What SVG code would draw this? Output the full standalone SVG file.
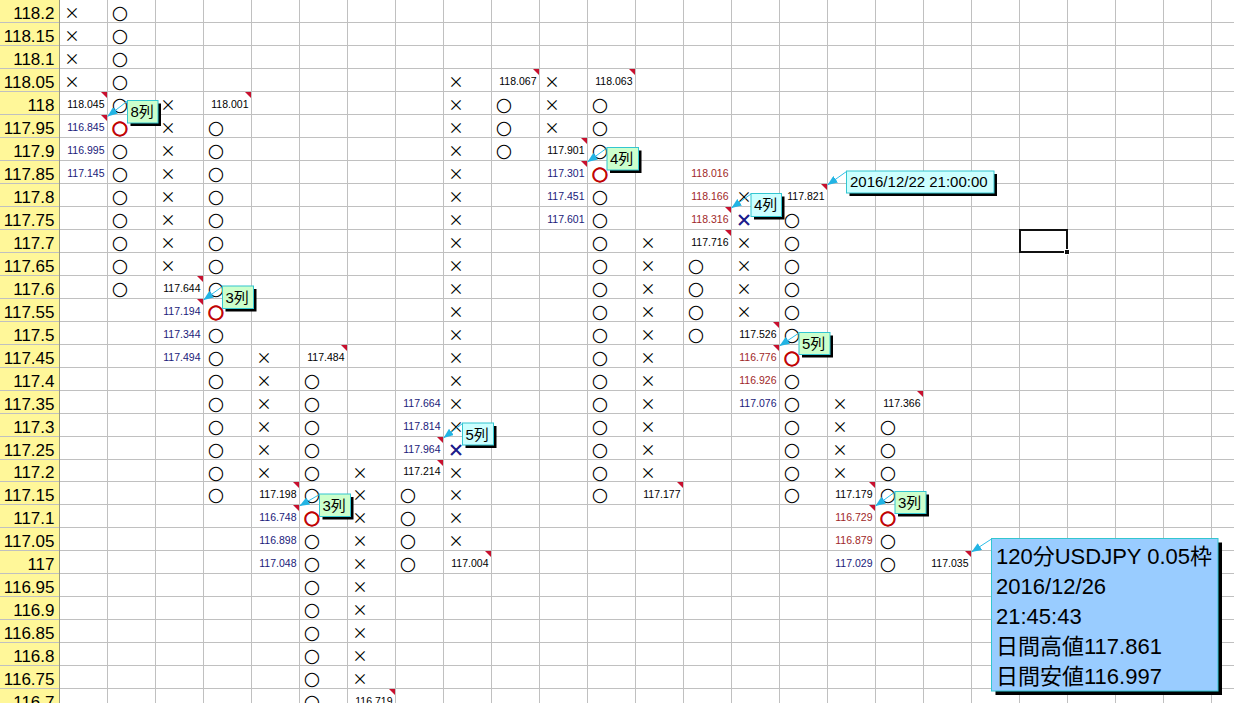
<svg xmlns="http://www.w3.org/2000/svg" xmlns:xlink="http://www.w3.org/1999/xlink" width="1234" height="703" viewBox="0 0 1234 703">
<defs>
<style>
.grid{stroke:#c0c0c0;stroke-width:1;fill:none}
.lab{font-family:"Liberation Sans",Arial,sans-serif;font-size:17px;text-anchor:end;fill:#000}
.n{font-family:"Liberation Sans",Arial,sans-serif;font-size:10.5px;text-anchor:end;fill:#000}
.nb{fill:#1a1a7a}
.nr{fill:#a02828}
.s{text-anchor:middle;dominant-baseline:central;fill:#000}
.o{font-family:"DejaVu Sans",sans-serif;font-size:19px}
.x{font-family:"Noto Sans CJK JP",sans-serif;font-size:15.5px}
.ro{fill:#c00000;stroke:#c00000;stroke-width:0.9}
.bx{fill:#1a1a8c;stroke:#1a1a8c;stroke-width:1}
.box{stroke:#33c6d0;stroke-width:1}
.g{fill:#ccffcc}
.c{fill:#ccffff}
.bl{fill:#99ccff}
.sh{fill:#000}
.bt{font-family:"Liberation Sans","Noto Sans CJK JP",sans-serif;font-size:15px;fill:#000}
.big{font-family:"Liberation Sans","Noto Sans CJK JP",sans-serif;font-size:22px;fill:#000}
.lead{stroke:#30bfe8;stroke-width:1;fill:none;marker-end:url(#ah)}
</style>
<polygon id="t" points="0,0 6,0 6,6" fill="#c8102e"/>
<marker id="ah" viewBox="0 0 10 8" refX="10" refY="4" markerWidth="10" markerHeight="8" markerUnits="userSpaceOnUse" orient="auto">
<path d="M0,0 L10,4 L0,8 z" fill="#22b4e4"/>
</marker>
</defs>
<rect width="1234" height="703" fill="#fff"/>
<g id="sheet">
<rect x="0" y="0" width="59.5" height="703" fill="#fff799"/>
<path class="grid" d="M0 22.5H1234M0 45.5H1234M0 68.5H1234M0 91.5H1234M0 114.5H1234M0 137.5H1234M0 160.5H1234M0 183.5H1234M0 206.5H1234M0 229.5H1234M0 252.5H1234M0 275.5H1234M0 298.5H1234M0 321.5H1234M0 344.5H1234M0 367.5H1234M0 390.5H1234M0 413.5H1234M0 436.5H1234M0 459.5H1234M0 481.5H1234M0 504.5H1234M0 527.5H1234M0 550.5H1234M0 573.5H1234M0 596.5H1234M0 619.5H1234M0 642.5H1234M0 665.5H1234M0 688.5H1234"/>
<path class="grid" d="M107.5 0V703M155.5 0V703M203.5 0V703M251.5 0V703M299.5 0V703M347.5 0V703M395.5 0V703M443.5 0V703M491.5 0V703M539.5 0V703M587.5 0V703M635.5 0V703M683.5 0V703M731.5 0V703M779.5 0V703M827.5 0V703M875.5 0V703M923.5 0V703M971.5 0V703M1019.5 0V703M1067.5 0V703M1115.5 0V703M1163.5 0V703M1211.5 0V703"/>
<path d="M59.5 0V703" stroke="#9a9a80" stroke-width="1"/>
</g>
<g id="price-labels">
<text class="lab" x="54.5" y="18.5">118.2</text>
<text class="lab" x="54.5" y="41.5">118.15</text>
<text class="lab" x="54.5" y="64.5">118.1</text>
<text class="lab" x="54.5" y="87.5">118.05</text>
<text class="lab" x="54.5" y="110.5">118</text>
<text class="lab" x="54.5" y="133.5">117.95</text>
<text class="lab" x="54.5" y="156.5">117.9</text>
<text class="lab" x="54.5" y="179.5">117.85</text>
<text class="lab" x="54.5" y="202.5">117.8</text>
<text class="lab" x="54.5" y="225.5">117.75</text>
<text class="lab" x="54.5" y="248.5">117.7</text>
<text class="lab" x="54.5" y="271.5">117.65</text>
<text class="lab" x="54.5" y="294.5">117.6</text>
<text class="lab" x="54.5" y="317.5">117.55</text>
<text class="lab" x="54.5" y="340.5">117.5</text>
<text class="lab" x="54.5" y="363.5">117.45</text>
<text class="lab" x="54.5" y="386.5">117.4</text>
<text class="lab" x="54.5" y="409.5">117.35</text>
<text class="lab" x="54.5" y="432.5">117.3</text>
<text class="lab" x="54.5" y="455.5">117.25</text>
<text class="lab" x="54.5" y="478">117.2</text>
<text class="lab" x="54.5" y="500.5">117.15</text>
<text class="lab" x="54.5" y="523.5">117.1</text>
<text class="lab" x="54.5" y="546.5">117.05</text>
<text class="lab" x="54.5" y="569.5">117</text>
<text class="lab" x="54.5" y="592.5">116.95</text>
<text class="lab" x="54.5" y="615.5">116.9</text>
<text class="lab" x="54.5" y="638.5">116.85</text>
<text class="lab" x="54.5" y="661.5">116.8</text>
<text class="lab" x="54.5" y="684.5">116.75</text>
<text class="lab" x="54.5" y="707.5">116.7</text>
</g>
<g id="col0">
<text class="s x" x="72" y="12">×</text>
<text class="s x" x="72" y="35">×</text>
<text class="s x" x="72" y="58">×</text>
<text class="s x" x="72" y="81">×</text>
<text class="n" x="104.5" y="107.5">118.045</text>
<text class="n nb" x="104.5" y="130.5">116.845</text>
<text class="n nb" x="104.5" y="153.5">116.995</text>
<text class="n nb" x="104.5" y="176.5">117.145</text>
<use xlink:href="#t" x="101" y="92"/>
<use xlink:href="#t" x="101" y="115"/>
</g>
<g id="col1">
<text class="s o" x="120" y="12">○</text>
<text class="s o" x="120" y="35">○</text>
<text class="s o" x="120" y="58">○</text>
<text class="s o" x="120" y="81">○</text>
<text class="s o" x="120" y="104">○</text>
<text class="s o ro" x="120" y="127">○</text>
<text class="s o" x="120" y="150">○</text>
<text class="s o" x="120" y="173">○</text>
<text class="s o" x="120" y="196">○</text>
<text class="s o" x="120" y="219">○</text>
<text class="s o" x="120" y="242">○</text>
<text class="s o" x="120" y="265">○</text>
<text class="s o" x="120" y="288">○</text>
</g>
<g id="col2">
<text class="s x" x="168" y="104">×</text>
<text class="s x" x="168" y="127">×</text>
<text class="s x" x="168" y="150">×</text>
<text class="s x" x="168" y="173">×</text>
<text class="s x" x="168" y="196">×</text>
<text class="s x" x="168" y="219">×</text>
<text class="s x" x="168" y="242">×</text>
<text class="s x" x="168" y="265">×</text>
<text class="n" x="200.5" y="291.5">117.644</text>
<text class="n nb" x="200.5" y="314.5">117.194</text>
<text class="n nb" x="200.5" y="337.5">117.344</text>
<text class="n nb" x="200.5" y="360.5">117.494</text>
<use xlink:href="#t" x="197" y="276"/>
<use xlink:href="#t" x="197" y="299"/>
</g>
<g id="col3">
<text class="n" x="248.5" y="107.5">118.001</text>
<use xlink:href="#t" x="245" y="92"/>
<text class="s o" x="216" y="127">○</text>
<text class="s o" x="216" y="150">○</text>
<text class="s o" x="216" y="173">○</text>
<text class="s o" x="216" y="196">○</text>
<text class="s o" x="216" y="219">○</text>
<text class="s o" x="216" y="242">○</text>
<text class="s o" x="216" y="265">○</text>
<text class="s o" x="216" y="288">○</text>
<text class="s o ro" x="216" y="311">○</text>
<text class="s o" x="216" y="334">○</text>
<text class="s o" x="216" y="357">○</text>
<text class="s o" x="216" y="380">○</text>
<text class="s o" x="216" y="403">○</text>
<text class="s o" x="216" y="426">○</text>
<text class="s o" x="216" y="449">○</text>
<text class="s o" x="216" y="471.5">○</text>
<text class="s o" x="216" y="494">○</text>
</g>
<g id="col4">
<text class="s x" x="264" y="357">×</text>
<text class="s x" x="264" y="380">×</text>
<text class="s x" x="264" y="403">×</text>
<text class="s x" x="264" y="426">×</text>
<text class="s x" x="264" y="449">×</text>
<text class="s x" x="264" y="471.5">×</text>
<text class="n" x="296.5" y="497.5">117.198</text>
<text class="n nb" x="296.5" y="520.5">116.748</text>
<text class="n nb" x="296.5" y="543.5">116.898</text>
<text class="n nb" x="296.5" y="566.5">117.048</text>
<use xlink:href="#t" x="293" y="482"/>
<use xlink:href="#t" x="293" y="505"/>
</g>
<g id="col5">
<text class="n" x="344.5" y="360.5">117.484</text>
<use xlink:href="#t" x="341" y="345"/>
<text class="s o" x="312" y="380">○</text>
<text class="s o" x="312" y="403">○</text>
<text class="s o" x="312" y="426">○</text>
<text class="s o" x="312" y="449">○</text>
<text class="s o" x="312" y="471.5">○</text>
<text class="s o" x="312" y="494">○</text>
<text class="s o ro" x="312" y="517">○</text>
<text class="s o" x="312" y="540">○</text>
<text class="s o" x="312" y="563">○</text>
<text class="s o" x="312" y="586">○</text>
<text class="s o" x="312" y="609">○</text>
<text class="s o" x="312" y="632">○</text>
<text class="s o" x="312" y="655">○</text>
<text class="s o" x="312" y="678">○</text>
<text class="s o" x="312" y="701">○</text>
</g>
<g id="col6">
<text class="s x" x="360" y="471.5">×</text>
<text class="s x" x="360" y="494">×</text>
<text class="s x" x="360" y="517">×</text>
<text class="s x" x="360" y="540">×</text>
<text class="s x" x="360" y="563">×</text>
<text class="s x" x="360" y="586">×</text>
<text class="s x" x="360" y="609">×</text>
<text class="s x" x="360" y="632">×</text>
<text class="s x" x="360" y="655">×</text>
<text class="s x" x="360" y="678">×</text>
<text class="n" x="392.5" y="704.5">116.719</text>
<use xlink:href="#t" x="389" y="689"/>
</g>
<g id="col7">
<text class="n nb" x="440.5" y="406.5">117.664</text>
<text class="n nb" x="440.5" y="429.5">117.814</text>
<text class="n nb" x="440.5" y="452.5">117.964</text>
<text class="n" x="440.5" y="475">117.214</text>
<use xlink:href="#t" x="437" y="437"/>
<use xlink:href="#t" x="437" y="460"/>
<text class="s o" x="408" y="494">○</text>
<text class="s o" x="408" y="517">○</text>
<text class="s o" x="408" y="540">○</text>
<text class="s o" x="408" y="563">○</text>
</g>
<g id="col8">
<text class="s x" x="456" y="81">×</text>
<text class="s x" x="456" y="104">×</text>
<text class="s x" x="456" y="127">×</text>
<text class="s x" x="456" y="150">×</text>
<text class="s x" x="456" y="173">×</text>
<text class="s x" x="456" y="196">×</text>
<text class="s x" x="456" y="219">×</text>
<text class="s x" x="456" y="242">×</text>
<text class="s x" x="456" y="265">×</text>
<text class="s x" x="456" y="288">×</text>
<text class="s x" x="456" y="311">×</text>
<text class="s x" x="456" y="334">×</text>
<text class="s x" x="456" y="357">×</text>
<text class="s x" x="456" y="380">×</text>
<text class="s x" x="456" y="403">×</text>
<text class="s x" x="456" y="426">×</text>
<text class="s x bx" x="456" y="449">×</text>
<text class="s x" x="456" y="471.5">×</text>
<text class="s x" x="456" y="494">×</text>
<text class="s x" x="456" y="517">×</text>
<text class="s x" x="456" y="540">×</text>
<text class="n" x="488.5" y="566.5">117.004</text>
<use xlink:href="#t" x="485" y="551"/>
</g>
<g id="col9">
<text class="n" x="536.5" y="84.5">118.067</text>
<use xlink:href="#t" x="533" y="69"/>
<text class="s o" x="504" y="104">○</text>
<text class="s o" x="504" y="127">○</text>
<text class="s o" x="504" y="150">○</text>
</g>
<g id="col10">
<text class="s x" x="552" y="81">×</text>
<text class="s x" x="552" y="104">×</text>
<text class="s x" x="552" y="127">×</text>
<text class="n" x="584.5" y="153.5">117.901</text>
<text class="n nb" x="584.5" y="176.5">117.301</text>
<text class="n nb" x="584.5" y="199.5">117.451</text>
<text class="n nb" x="584.5" y="222.5">117.601</text>
<use xlink:href="#t" x="581" y="138"/>
<use xlink:href="#t" x="581" y="161"/>
</g>
<g id="col11">
<text class="n" x="632.5" y="84.5">118.063</text>
<use xlink:href="#t" x="629" y="69"/>
<text class="s o" x="600" y="104">○</text>
<text class="s o" x="600" y="127">○</text>
<text class="s o" x="600" y="150">○</text>
<text class="s o ro" x="600" y="173">○</text>
<text class="s o" x="600" y="196">○</text>
<text class="s o" x="600" y="219">○</text>
<text class="s o" x="600" y="242">○</text>
<text class="s o" x="600" y="265">○</text>
<text class="s o" x="600" y="288">○</text>
<text class="s o" x="600" y="311">○</text>
<text class="s o" x="600" y="334">○</text>
<text class="s o" x="600" y="357">○</text>
<text class="s o" x="600" y="380">○</text>
<text class="s o" x="600" y="403">○</text>
<text class="s o" x="600" y="426">○</text>
<text class="s o" x="600" y="449">○</text>
<text class="s o" x="600" y="471.5">○</text>
<text class="s o" x="600" y="494">○</text>
</g>
<g id="col12">
<text class="s x" x="648" y="242">×</text>
<text class="s x" x="648" y="265">×</text>
<text class="s x" x="648" y="288">×</text>
<text class="s x" x="648" y="311">×</text>
<text class="s x" x="648" y="334">×</text>
<text class="s x" x="648" y="357">×</text>
<text class="s x" x="648" y="380">×</text>
<text class="s x" x="648" y="403">×</text>
<text class="s x" x="648" y="426">×</text>
<text class="s x" x="648" y="449">×</text>
<text class="s x" x="648" y="471.5">×</text>
<text class="n" x="680.5" y="497.5">117.177</text>
<use xlink:href="#t" x="677" y="482"/>
</g>
<g id="col13">
<text class="n nr" x="728.5" y="176.5">118.016</text>
<text class="n nr" x="728.5" y="199.5">118.166</text>
<text class="n nr" x="728.5" y="222.5">118.316</text>
<text class="n" x="728.5" y="245.5">117.716</text>
<use xlink:href="#t" x="725" y="207"/>
<use xlink:href="#t" x="725" y="230"/>
<text class="s o" x="696" y="265">○</text>
<text class="s o" x="696" y="288">○</text>
<text class="s o" x="696" y="311">○</text>
<text class="s o" x="696" y="334">○</text>
</g>
<g id="col14">
<text class="s x" x="744" y="196">×</text>
<text class="s x bx" x="744" y="219">×</text>
<text class="s x" x="744" y="242">×</text>
<text class="s x" x="744" y="265">×</text>
<text class="s x" x="744" y="288">×</text>
<text class="s x" x="744" y="311">×</text>
<text class="n" x="776.5" y="337.5">117.526</text>
<text class="n nr" x="776.5" y="360.5">116.776</text>
<text class="n nr" x="776.5" y="383.5">116.926</text>
<text class="n nb" x="776.5" y="406.5">117.076</text>
<use xlink:href="#t" x="773" y="322"/>
<use xlink:href="#t" x="773" y="345"/>
</g>
<g id="col15">
<text class="n" x="824.5" y="199.5">117.821</text>
<use xlink:href="#t" x="821" y="184"/>
<text class="s o" x="792" y="219">○</text>
<text class="s o" x="792" y="242">○</text>
<text class="s o" x="792" y="265">○</text>
<text class="s o" x="792" y="288">○</text>
<text class="s o" x="792" y="311">○</text>
<text class="s o" x="792" y="334">○</text>
<text class="s o ro" x="792" y="357">○</text>
<text class="s o" x="792" y="380">○</text>
<text class="s o" x="792" y="403">○</text>
<text class="s o" x="792" y="426">○</text>
<text class="s o" x="792" y="449">○</text>
<text class="s o" x="792" y="471.5">○</text>
<text class="s o" x="792" y="494">○</text>
</g>
<g id="col16">
<text class="s x" x="840" y="403">×</text>
<text class="s x" x="840" y="426">×</text>
<text class="s x" x="840" y="449">×</text>
<text class="s x" x="840" y="471.5">×</text>
<text class="n" x="872.5" y="497.5">117.179</text>
<text class="n nr" x="872.5" y="520.5">116.729</text>
<text class="n nr" x="872.5" y="543.5">116.879</text>
<text class="n nb" x="872.5" y="566.5">117.029</text>
<use xlink:href="#t" x="869" y="482"/>
<use xlink:href="#t" x="869" y="505"/>
</g>
<g id="col17">
<text class="n" x="920.5" y="406.5">117.366</text>
<use xlink:href="#t" x="917" y="391"/>
<text class="s o" x="888" y="426">○</text>
<text class="s o" x="888" y="449">○</text>
<text class="s o" x="888" y="471.5">○</text>
<text class="s o" x="888" y="494">○</text>
<text class="s o ro" x="888" y="517">○</text>
<text class="s o" x="888" y="540">○</text>
<text class="s o" x="888" y="563">○</text>
</g>
<g id="col18">
<text class="n" x="968.5" y="566.5">117.035</text>
<use xlink:href="#t" x="965" y="551"/>
</g>
<g id="selected-cell">
<rect x="1020" y="230" width="47" height="22" fill="none" stroke="#111" stroke-width="2"/>
<rect x="1064.5" y="249.5" width="5" height="5" fill="#111" stroke="#fff" stroke-width="1"/>
</g>
<g id="connectors">
<path class="lead" d="M127.5 101L107.5 116.5"/>
<path class="lead" d="M222.5 286.5L203.5 300"/>
<path class="lead" d="M319.5 494.5L299.5 506"/>
<path class="lead" d="M462.5 423.5L443.5 438"/>
<path class="lead" d="M607 148L587.5 162"/>
<path class="lead" d="M751 194L731.5 208"/>
<path class="lead" d="M846.5 171.5L827.5 185"/>
<path class="lead" d="M799 333L779.5 346"/>
<path class="lead" d="M895 492L875.5 506"/>
<path class="lead" d="M991.5 539L971.5 552"/>
</g>
<g id="note-8">
<rect class="sh" x="130.5" y="103.5" width="30.5" height="22.5"/>
<rect class="box g" x="127.5" y="100.5" width="30.5" height="22.5"/>
<text class="bt" x="130.5" y="117">8列</text>
</g>
<g id="note-3a">
<rect class="sh" x="225.5" y="289" width="31" height="22.5"/>
<rect class="box g" x="222.5" y="286" width="31" height="22.5"/>
<text class="bt" x="225.5" y="302.5">3列</text>
</g>
<g id="note-3b">
<rect class="sh" x="322.5" y="497" width="31" height="22.5"/>
<rect class="box g" x="319.5" y="494" width="31" height="22.5"/>
<text class="bt" x="322.5" y="510.5">3列</text>
</g>
<g id="note-5a">
<rect class="sh" x="465.5" y="426" width="31" height="22"/>
<rect class="box c" x="462.5" y="423" width="31" height="22"/>
<text class="bt" x="465.5" y="439.5">5列</text>
</g>
<g id="note-4a">
<rect class="sh" x="610" y="150.5" width="31.5" height="22.5"/>
<rect class="box g" x="607" y="147.5" width="31.5" height="22.5"/>
<text class="bt" x="610" y="164">4列</text>
</g>
<g id="note-4b">
<rect class="sh" x="754" y="196.5" width="30.5" height="23"/>
<rect class="box c" x="751" y="193.5" width="30.5" height="23"/>
<text class="bt" x="754" y="210">4列</text>
</g>
<g id="note-date">
<rect class="sh" x="849.5" y="174" width="147.5" height="22"/>
<rect class="box c" x="846.5" y="171" width="147.5" height="22"/>
<text class="bt" x="850" y="187">2016/12/22 21:00:00</text>
</g>
<g id="note-5b">
<rect class="sh" x="802" y="335.5" width="31" height="22"/>
<rect class="box g" x="799" y="332.5" width="31" height="22"/>
<text class="bt" x="802" y="349">5列</text>
</g>
<g id="note-3c">
<rect class="sh" x="898" y="494.5" width="31" height="22"/>
<rect class="box g" x="895" y="491.5" width="31" height="22"/>
<text class="bt" x="898" y="508">3列</text>
</g>
<g id="note-summary">
<rect class="sh" x="995.5" y="542.5" width="226.5" height="152.5"/>
<rect class="box bl" x="991.5" y="538.5" width="226.5" height="152.5"/>
<text class="big" x="996" y="564">120分USDJPY 0.05枠</text>
<text class="big" x="996" y="594">2016/12/26</text>
<text class="big" x="996" y="624">21:45:43</text>
<text class="big" x="996" y="654">日間高値117.861</text>
<text class="big" x="996" y="684">日間安値116.997</text>
</g>
</svg>
